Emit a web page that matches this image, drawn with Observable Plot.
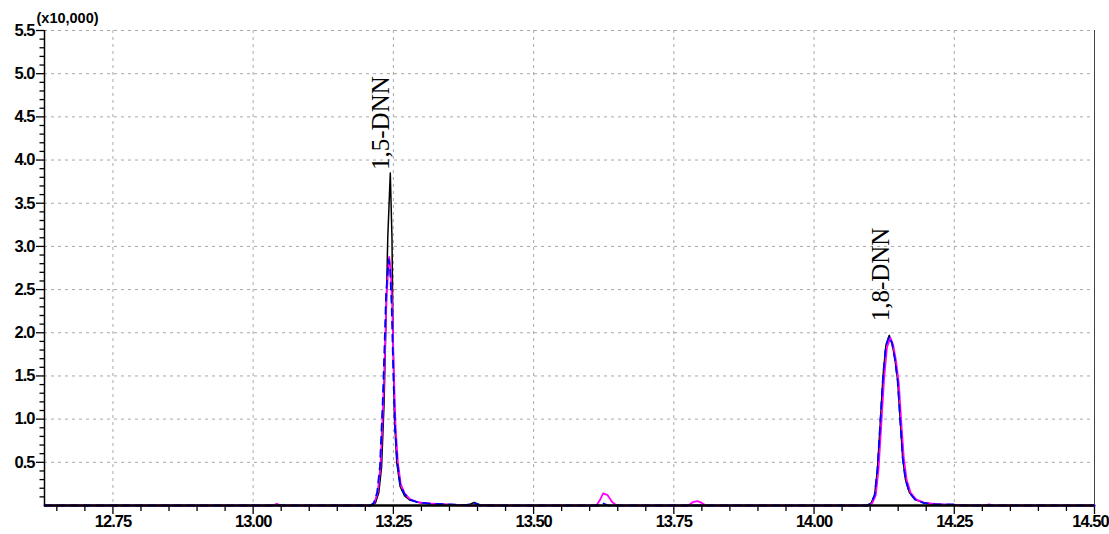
<!DOCTYPE html>
<html>
<head>
<meta charset="utf-8">
<script src="https://cdn.jsdelivr.net/npm/d3@7"></script>
<script src="https://cdn.jsdelivr.net/npm/@observablehq/plot@0.6"></script>
<style>
  html, body { margin: 0; padding: 0; background: #fff; }
  #chart svg { display: block; }
  #chart g[aria-label$="tick label"] { letter-spacing: -1px; }
</style>
</head>
<body>
<div id="chart"></div>
<script>
// Retention-time window (min) and intensity range (x10,000 counts)
const timeDomain = [12.628, 14.50];
const signalDomain = [0, 5.5];

// Axis ticks
const xMajorTicks = [12.75, 13.00, 13.25, 13.50, 13.75, 14.00, 14.25, 14.50];
const yMajorTicks = [0.5, 1.0, 1.5, 2.0, 2.5, 3.0, 3.5, 4.0, 4.5, 5.0, 5.5];

// Trace 1 (black)
const blackTime = [12.628, 13.212, 13.218, 13.224, 13.229, 13.2335, 13.237, 13.240, 13.2445, 13.2475,
  13.2495, 13.252, 13.256, 13.262, 13.270, 13.280, 13.300, 13.330, 13.360, 13.385,
  13.394, 13.404, 13.440, 14.095, 14.102, 14.108, 14.113, 14.118, 14.123, 14.128,
  14.134, 14.139, 14.144, 14.149, 14.154, 14.158, 14.163, 14.170, 14.180, 14.195,
  14.215, 14.250, 14.270, 14.500];
const blackSignal = [0, 0, 0.03, 0.15, 0.45, 1.2, 2.2, 3.1, 3.85, 3.1,
  1.9, 1.0, 0.5, 0.22, 0.11, 0.06, 0.03, 0.015, 0.01, 0.01,
  0.035, 0.01, 0, 0, 0.03, 0.12, 0.42, 0.95, 1.5, 1.85,
  1.97, 1.88, 1.7, 1.45, 0.95, 0.55, 0.3, 0.15, 0.07, 0.03,
  0.015, 0.005, 0, 0];

// Trace 2 (magenta)
const magentaTime = [12.628, 13.035, 13.042, 13.050, 13.210, 13.216, 13.222, 13.227, 13.232, 13.235,
  13.238, 13.2425, 13.245, 13.248, 13.251, 13.254, 13.258, 13.263, 13.270, 13.280,
  13.295, 13.320, 13.350, 13.380, 13.612, 13.618, 13.624, 13.632, 13.640, 13.648,
  13.776, 13.784, 13.792, 13.800, 13.807, 14.097, 14.104, 14.110, 14.115, 14.120,
  14.125, 14.130, 14.136, 14.141, 14.146, 14.151, 14.156, 14.160, 14.165, 14.172,
  14.182, 14.197, 14.220, 14.260, 14.305, 14.312, 14.320, 14.500];
const magentaSignal = [0, 0, 0.02, 0, 0, 0.03, 0.15, 0.45, 1.2, 1.8,
  2.45, 2.88, 2.75, 2.3, 1.5, 0.9, 0.5, 0.25, 0.14, 0.07,
  0.035, 0.02, 0.01, 0, 0, 0.06, 0.14, 0.12, 0.04, 0,
  0, 0.04, 0.05, 0.03, 0, 0, 0.03, 0.12, 0.42, 0.95,
  1.48, 1.83, 1.94, 1.86, 1.68, 1.42, 0.92, 0.55, 0.3, 0.15,
  0.07, 0.03, 0.015, 0.005, 0, 0.012, 0, 0];

// Trace 3 (blue)
const blueTime = [12.628, 13.209, 13.215, 13.221, 13.226, 13.231, 13.234, 13.237, 13.2415, 13.244,
  13.247, 13.250, 13.253, 13.257, 13.262, 13.269, 13.279, 13.294, 13.320, 13.350,
  13.380, 13.394, 13.404, 13.615, 13.624, 13.633, 14.095, 14.102, 14.108, 14.113,
  14.118, 14.123, 14.128, 14.134, 14.139, 14.144, 14.149, 14.154, 14.158, 14.163,
  14.170, 14.180, 14.195, 14.215, 14.250, 14.260, 14.500];
const blueSignal = [0, 0, 0.03, 0.15, 0.45, 1.2, 1.8, 2.45, 2.85, 2.75,
  2.3, 1.5, 0.9, 0.5, 0.25, 0.14, 0.07, 0.035, 0.02, 0.012,
  0.005, 0.03, 0, 0, 0.025, 0, 0, 0.03, 0.12, 0.42,
  0.95, 1.5, 1.85, 1.96, 1.88, 1.7, 1.45, 0.95, 0.55, 0.3,
  0.15, 0.07, 0.03, 0.015, 0.012, 0, 0];

// Peak annotations
const peakNames = ["1,5-DNN", "1,8-DNN"];
const peakTimes = [13.2445, 14.134];
const peakHeights = [3.85, 1.97];

const toRows = (times, values) => times.map((t, i) => ({t, v: values[i]}));
const black = toRows(blackTime, blackSignal);
const magenta = toRows(magentaTime, magentaSignal);
const blue = toRows(blueTime, blueSignal);
const peaks = peakNames.map((name, i) => ({name, t: peakTimes[i], v: peakHeights[i]}));

const xMinor = d3.range(12.65, 14.5, 0.05).map(d => +d.toFixed(2)).filter(d => !xMajorTicks.includes(d));
const yMinor = d3.range(0.1, 5.5, 0.1).map(d => +d.toFixed(1)).filter(d => !yMajorTicks.includes(d));

const tickFont = "'Liberation Sans Narrow', 'Liberation Sans', Arial, sans-serif";
const labelFont = "'Liberation Serif', 'Times New Roman', serif";
const xLabelStyle = {tickSize: 0, tickPadding: 10, tickFormat: d => d.toFixed(2), label: null, fontWeight: "bold", fontSize: 16.5};

const chart = Plot.plot({
  width: 1109,
  height: 534,
  marginLeft: 44,
  marginRight: 15,
  marginTop: 30,
  marginBottom: 29,
  style: {background: "#fff", fontFamily: tickFont, fontSize: "16px", color: "#000", overflow: "visible"},
  x: {domain: timeDomain},
  y: {domain: signalDomain},
  marks: [
    // dashed grid
    Plot.gridX(xMajorTicks.filter(d => d < 14.5), {stroke: "#a8a8a8", strokeOpacity: 1, strokeDasharray: "3,4"}),
    Plot.gridY(yMajorTicks, {stroke: "#a8a8a8", strokeOpacity: 1, strokeDasharray: "3,4"}),
    // frame
    Plot.ruleX([14.5], {stroke: "#444", strokeWidth: 1}),
    Plot.ruleX([timeDomain[0]], {stroke: "#000", strokeWidth: 1.5}),
    // x axis: ticks, then labels (the last one nudged inside the edge)
    Plot.axisX(xMajorTicks, {tickSize: 9, text: null, label: null, stroke: "#000", strokeWidth: 1.3}),
    Plot.axisX(xMinor, {tickSize: 6, text: null, label: null, stroke: "#000", strokeWidth: 1.3}),
    Plot.axisX(xMajorTicks.slice(0, -1), xLabelStyle),
    Plot.axisX(xMajorTicks.slice(-1), {...xLabelStyle, dx: -4}),
    // y axis
    Plot.axisY(yMajorTicks, {tickSize: 8, tickPadding: 2, tickFormat: d => d.toFixed(1), label: null, fontWeight: "bold", fontSize: 16.5, stroke: "#000", strokeWidth: 1.3}),
    Plot.axisY(yMinor, {tickSize: 4.5, text: null, label: null, stroke: "#000", strokeWidth: 1.3}),
    Plot.text(["(x10,000)"], {frameAnchor: "top-left", textAnchor: "start", lineAnchor: "middle", dx: -8, dy: -12, fontSize: 14.5, fontWeight: "bold", fontFamily: tickFont}),
    // traces
    Plot.line(black, {x: "t", y: "v", stroke: "#000", strokeWidth: 1.5}),
    Plot.line(magenta, {x: "t", y: "v", stroke: "#ff00ff", strokeWidth: 1.8}),
    Plot.line(blue, {x: "t", y: "v", stroke: "#0000ff", strokeWidth: 1.8, strokeDasharray: "7,6"}),
    Plot.ruleY([0], {stroke: "#000", strokeWidth: 2.5}),
    // peak labels
    Plot.text([peaks[0]], {x: "t", y: "v", text: "name", rotate: -90, textAnchor: "start", dx: -9, dy: -3, fontSize: 25, fontFamily: labelFont, fill: "#000"}),
    Plot.text([peaks[1]], {x: "t", y: "v", text: "name", rotate: -90, textAnchor: "start", dx: -8, dy: -14, fontSize: 25, fontFamily: labelFont, fill: "#000"})
  ]
});

document.getElementById("chart").appendChild(chart);
</script>
</body>
</html>
